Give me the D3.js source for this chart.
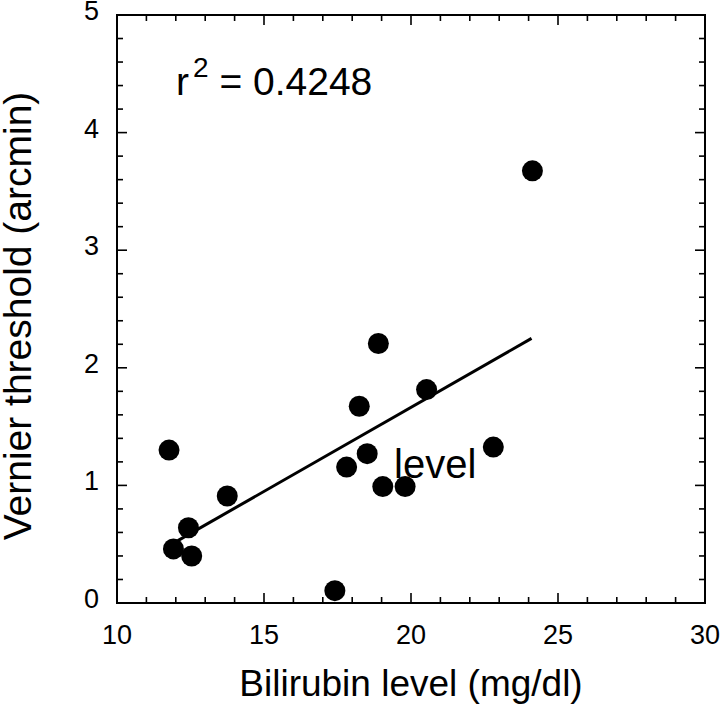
<!DOCTYPE html>
<html>
<head>
<meta charset="utf-8">
<script src="https://cdn.jsdelivr.net/npm/d3@7"></script>
<style>
  body { margin: 0; background: #fff; }
  text { font-family: "Liberation Sans", Arial, Helvetica, sans-serif; fill: #000; }
</style>
</head>
<body>
<svg id="chart" width="720" height="716"></svg>
<script>
// Data
const bilirubin = [11.77, 13.75, 12.43, 11.92, 12.54, 17.41, 17.81, 18.51, 18.24, 18.89, 19.04, 19.80, 20.53, 22.80, 24.13];
const vernier   = [1.30, 0.91, 0.64, 0.46, 0.40, 0.105, 1.156, 1.27, 1.673, 2.207, 0.99, 0.99, 1.815, 1.326, 3.675];
const fitX = [12.07, 24.10];
const fitY = [0.53, 2.25];
const xTicks = [10, 15, 20, 25, 30];
const yTicks = [0, 1, 2, 3, 4, 5];
const xMinor = d3.range(10, 30.001, 1);
const yMinor = d3.range(0, 5.001, 0.2);
const rSquaredLabel = "0.4248";

(function () {
const svg = d3.select("#chart");
const pL = 117, pR = 705, pT = 15, pB = 603;
const x = d3.scaleLinear().domain([10, 30]).range([pL, pR]);
const y = d3.scaleLinear().domain([0, 5]).range([pB, pT]);

// frame
svg.append("rect")
  .attr("x", pL).attr("y", pT)
  .attr("width", pR - pL).attr("height", pB - pT)
  .attr("fill", "none").attr("stroke", "#000").attr("stroke-width", 2);

const isMajorX = v => Math.abs(v / 5 - Math.round(v / 5)) < 1e-6;
const isMajorY = v => Math.abs(v - Math.round(v)) < 1e-6;

// inward ticks on all sides
const tickG = svg.append("g").attr("stroke", "#000").attr("stroke-width", 1.6);
xMinor.forEach(v => {
  const len = isMajorX(v) ? 10 : 6;
  tickG.append("line").attr("x1", x(v)).attr("x2", x(v)).attr("y1", pB).attr("y2", pB - len);
  tickG.append("line").attr("x1", x(v)).attr("x2", x(v)).attr("y1", pT).attr("y2", pT + len);
});
yMinor.forEach(v => {
  const len = isMajorY(v) ? 10 : 6;
  tickG.append("line").attr("y1", y(v)).attr("y2", y(v)).attr("x1", pL).attr("x2", pL + len);
  tickG.append("line").attr("y1", y(v)).attr("y2", y(v)).attr("x1", pR).attr("x2", pR - len);
});

// tick labels
svg.append("g").selectAll("text").data(xTicks).join("text")
  .attr("x", d => x(d)).attr("y", 644)
  .attr("text-anchor", "middle").attr("font-size", 27)
  .text(d => d);
svg.append("g").selectAll("text").data(yTicks).join("text")
  .attr("x", 99).attr("y", d => y(d) + 5)
  .attr("text-anchor", "end").attr("font-size", 27)
  .text(d => d);

// axis titles
svg.append("text")
  .attr("x", 411).attr("y", 696)
  .attr("text-anchor", "middle").attr("font-size", 37)
  .text("Bilirubin level (mg/dl)");
svg.append("text")
  .attr("transform", "translate(31,316) rotate(-90)")
  .attr("text-anchor", "middle").attr("font-size", 39)
  .text("Vernier threshold (arcmin)");

// fit line
svg.append("line")
  .attr("x1", x(fitX[0])).attr("y1", y(fitY[0]))
  .attr("x2", x(fitX[1])).attr("y2", y(fitY[1]))
  .attr("stroke", "#000").attr("stroke-width", 3);

// points
svg.append("g").selectAll("circle").data(bilirubin.map((b, i) => [b, vernier[i]])).join("circle")
  .attr("cx", d => x(d[0])).attr("cy", d => y(d[1])).attr("r", 10.5)
  .attr("fill", "#000");

// annotations
const rt = svg.append("text").attr("x", 176).attr("y", 95).attr("font-size", 39);
rt.append("tspan").text("r");
rt.append("tspan").attr("font-size", 28).attr("dx", 4).attr("dy", -18).text("2");
rt.append("tspan").attr("dy", 18).text(" = " + rSquaredLabel);

svg.append("text").attr("x", 394).attr("y", 478).attr("font-size", 40).text("level");
})();
</script>
</body>
</html>
